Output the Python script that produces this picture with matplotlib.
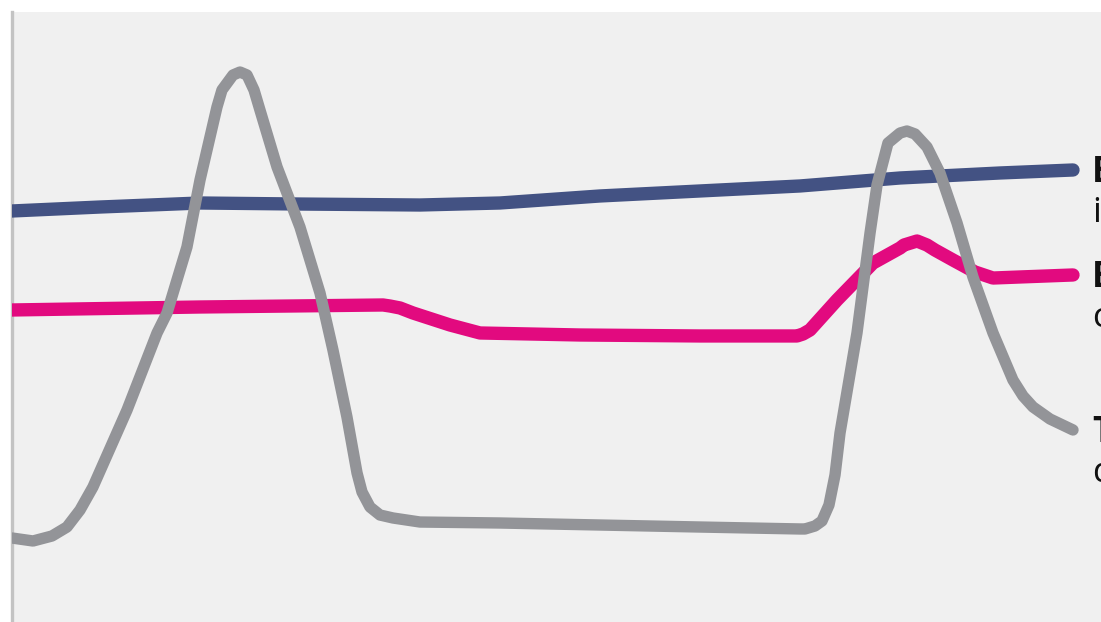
import matplotlib
matplotlib.use("Agg")
import matplotlib.pyplot as plt

# x: share of the period (0-100), y: index value (0-100)
gray_x = [0, 1.98, 3.77, 5.18, 6.41, 7.63, 10.84, 13.67, 14.61, 16.49, 17.72, 19.32, 19.79,
          20.83, 21.49, 22.15, 22.81, 23.37, 24.98, 27.14, 29.03, 30.25, 31.57, 32.52, 32.99,
          33.74, 34.68, 35.91, 38.45, 45.99, 55.42, 64.84, 74.27, 74.74, 75.68, 76.34, 77.00,
          77.57, 78.04, 79.64, 80.87, 81.53, 82.56, 83.70, 84.35, 85.11, 86.24, 87.46, 89.07,
          90.57, 92.46, 94.34, 95.29, 96.23, 97.83, 100]
gray_y = [13.77, 13.28, 14.10, 15.57, 18.36, 22.13, 34.75, 47.38, 50.66, 61.48, 72.46, 84.43, 87.21,
          89.67, 90.16, 89.67, 87.21, 83.93, 74.59, 64.75, 53.93, 44.59, 33.61, 24.43, 21.31,
          18.85, 17.54, 17.05, 16.39, 16.23, 15.90, 15.57, 15.25, 15.25, 15.74, 16.56, 19.18,
          24.10, 30.98, 47.38, 63.77, 71.64, 78.52, 80.16, 80.49, 80.00, 77.87, 73.61, 65.41,
          56.56, 47.38, 39.67, 37.05, 35.25, 33.28, 31.48]

blue_x = [0, 8.29, 17.72, 27.14, 38.45, 45.99, 55.42, 64.84, 74.27, 83.70, 93.12, 100]
blue_y = [67.38, 68.03, 68.69, 68.52, 68.36, 68.69, 69.84, 70.66, 71.48, 72.79, 73.61, 74.10]

pink_x = [0, 17.72, 34.97, 35.63, 36.57, 37.79, 41.28, 44.11, 53.53, 64.84, 73.99, 74.55, 75.21,
          77.76, 81.15, 83.70, 84.07, 85.30, 86.24, 86.99, 88.69, 90.76, 92.46, 95.00, 100]
pink_y = [51.15, 51.64, 51.97, 51.80, 51.48, 50.66, 48.69, 47.38, 47.05, 46.89, 46.89, 47.21, 47.87,
          52.79, 58.85, 61.31, 61.80, 62.46, 61.80, 60.98, 59.34, 57.38, 56.39, 56.56, 56.89]

labels = [("Brand", "impressions"), ("Bookings", "conversion"), ("Traffic", "demand")]

series = [
    (blue_x, blue_y, "#435283", 9.6),
    (pink_x, pink_y, "#e20a7f", 9.6),
    (gray_x, gray_y, "#939498", 8.2),
]

fig = plt.figure(figsize=(11.01, 6.22), dpi=100)
ax = fig.add_axes([12 / 1101, 0, 1 - 12 / 1101, 610 / 622])
ax.set_facecolor("#f0f0f0")

for (xs, ys, color, lw), (head, sub) in zip(series, labels):
    ax.plot(xs, ys, color=color, linewidth=lw, solid_capstyle="round",
            solid_joinstyle="round", zorder=3)
    ax.annotate(head, (xs[-1], ys[-1]), xytext=(19, -12), textcoords="offset pixels",
                fontsize=25, fontweight="bold", family="Open Sans", va="baseline",
                color="#111111", annotation_clip=False)
    ax.annotate(sub, (xs[-1], ys[-1]), xytext=(19, -52), textcoords="offset pixels",
                fontsize=25, family="Open Sans", va="baseline",
                color="#111111", annotation_clip=False)

ax.set_xlim(0, 1089 / 1061 * 100)
ax.set_ylim(0, 100)
ax.set_xticks([])
ax.set_yticks([])
for side in ["top", "right", "bottom"]:
    ax.spines[side].set_visible(False)
ax.spines["left"].set_color("#c3c3c3")
ax.spines["left"].set_linewidth(2.4)

fig.savefig("out.png", dpi=100, facecolor="white")
